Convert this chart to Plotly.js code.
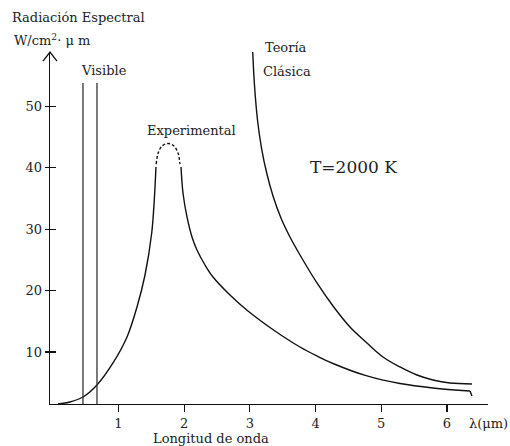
<!DOCTYPE html>
<html><head><meta charset="utf-8">
<script src="https://cdn.plot.ly/plotly-3.0.1.min.js"></script>
<style>html,body{margin:0;padding:0;background:#fff}#plot{width:510px;height:446px}</style>
</head><body><div id="plot"></div>
<script>
// Experimental curve (rising part, dashed peak, falling part)
const expRiseX = [0.081, 0.263, 0.461, 0.674, 0.918, 1.131, 1.283, 1.405, 1.507, 1.546, 1.572];
const expRiseY = [1.53, 1.86, 2.67, 4.63, 8.21, 12.44, 17.33, 22.54, 29.38, 34.76, 40.13];
const expPeakX = [1.575, 1.605, 1.664, 1.755, 1.846, 1.907, 1.937];
const expPeakY = [40.6, 42.4, 43.55, 43.96, 43.55, 42.4, 40.6];
const expFallX = [1.953, 1.983, 2.044, 2.120, 2.196, 2.318, 2.440, 2.698, 2.972, 3.383, 3.763, 4.022, 4.266, 4.783, 5.285, 5.787, 6.351];
const expFallY = [40.13, 35.9, 31.99, 28.73, 26.61, 24.17, 22.21, 19.28, 16.68, 13.42, 10.81, 9.35, 8.13, 6.10, 4.87, 4.14, 3.65];
const expHookX = [6.351, 6.381];
const expHookY = [3.65, 2.83];
// Classical theory curve
const clasX = [3.044, 3.071, 3.117, 3.178, 3.257, 3.353, 3.474, 3.611, 3.764, 4.022, 4.266, 4.524, 4.783, 5.027, 5.285, 5.544, 5.787, 6.046, 6.381];
const clasY = [58.91, 53.49, 47.78, 43.22, 39.15, 35.41, 31.82, 28.73, 25.80, 21.24, 17.49, 14.07, 11.47, 9.19, 7.56, 6.25, 5.44, 4.95, 4.79];
// Visible band limits
const visibleX = [0.461, 0.674];
const visibleTop = 53.8;
const axisBottom = 1.53;
// ticks
const xTicks = [1, 2, 3, 4, 5, 6];
const yTicks = [10, 20, 30, 40, 50];

const black = '#111';
const traces = [];
const curve = (x, y, opts) => Object.assign({x: x, y: y, mode: 'lines', type: 'scatter', hoverinfo: 'skip', showlegend: false,
  line: {color: black, width: 1.4, shape: 'spline', smoothing: 1}}, opts || {});
traces.push(curve(expRiseX, expRiseY));
traces.push(curve(expPeakX, expPeakY, {line: {color: black, width: 1.4, shape: 'spline', dash: '3px,2px'}}));
traces.push(curve(expFallX, expFallY));
traces.push(curve(expHookX, expHookY, {line: {color: black, width: 1.4}}));
traces.push(curve(clasX, clasY));
visibleX.forEach(v => traces.push(curve([v, v], [axisBottom, visibleTop], {line: {color: '#333', width: 1.3}})));
traces.push({x: [], y: [], yaxis: 'y2', type: 'scatter', mode: 'lines', showlegend: false});

const font = {family: 'DejaVu Serif', size: 13, color: '#222'};
const ann = (text, x, y, o) => Object.assign({text: text, x: x, y: y, xref: 'x', yref: 'y', showarrow: false, font: font}, o || {});
const pann = (text, x, y, o) => Object.assign({text: text, x: x, y: y, xref: 'paper', yref: 'paper', xanchor: 'left', yanchor: 'middle', showarrow: false, font: font}, o || {});
const layout = {
  width: 510, height: 446,
  margin: {l: 50, r: 22, t: 52, b: 42, pad: 0},
  paper_bgcolor: '#fff', plot_bgcolor: '#fff',
  font: font,
  xaxis: {range: [-0.041, 6.625], tickvals: xTicks, ticks: 'outside', ticklen: 7, tickwidth: 1.2, tickcolor: black,
    showline: true, linecolor: black, linewidth: 1.3, showgrid: false, zeroline: false, ticklabelstandoff: 0,
    tickfont: font},
  yaxis: {range: [axisBottom, 58.86], tickvals: yTicks, ticks: 'outside', ticklen: 4, tickwidth: 1.2, tickcolor: black,
    showline: true, linecolor: black, linewidth: 1.3, showgrid: false, zeroline: false, tickfont: font},
  yaxis2: {overlaying: 'y', matches: 'y', side: 'left', tickvals: yTicks, ticks: 'inside', ticklen: 6, tickwidth: 1.2,
    tickcolor: black, showticklabels: false, showline: false, showgrid: false, zeroline: false},
  shapes: [{type: 'path', xref: 'paper', yref: 'paper', path: 'M -0.016 0.974 L 0 1 L 0.016 0.974',
    line: {color: black, width: 1.3}}],
  annotations: [
    ann('Visible', 0.781, 55.9),
    ann('Experimental', 2.12, 46.0),
    pann('Teoría', 0.4863, 1.0142),
    pann('Clásica', 0.4817, 0.946),
    ann('T=2000 K', 4.585, 40.1, {font: {family: 'DejaVu Serif', size: 17, color: '#222'}}),
    pann('Radiación Espectral', -0.0913, 1.0994),
    pann('W/cm<sup>2</sup>· μ m', -0.0868, 1.034),
    pann('Longitud de onda', 0.3676, -0.0966, {xanchor: 'center'}),
    pann('λ(μm)', 1.0, -0.054, {xanchor: 'center'})
  ]
};
Plotly.newPlot('plot', traces, layout, {displayModeBar: false, staticPlot: true});
</script></body></html>
